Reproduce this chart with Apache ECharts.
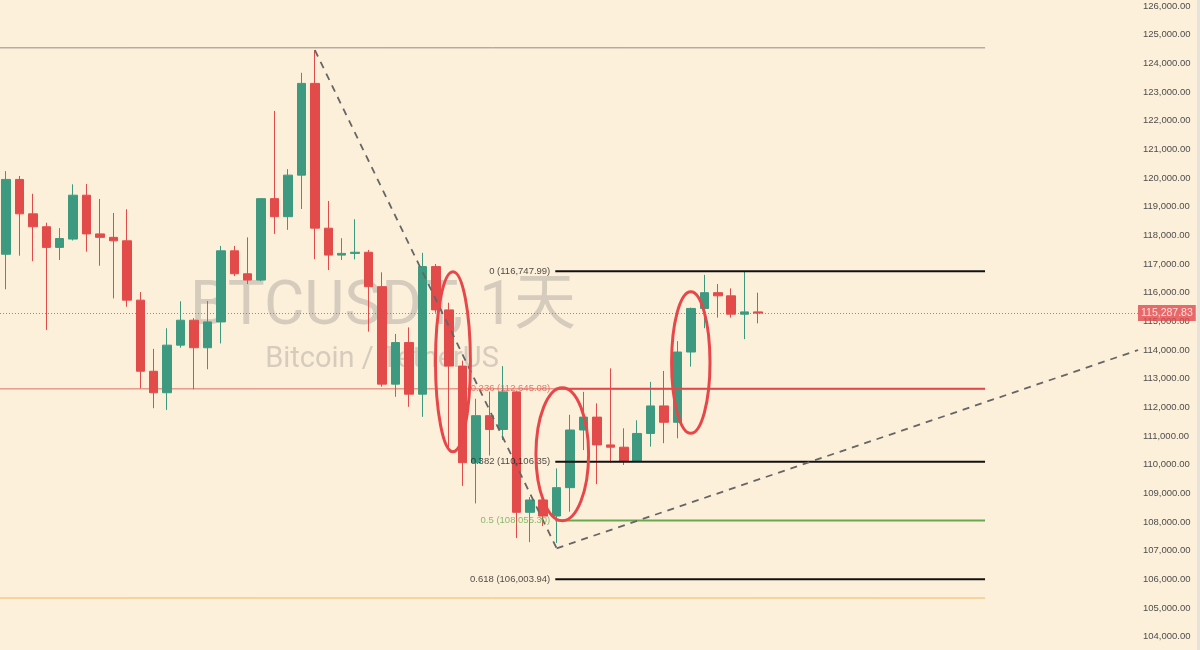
<!DOCTYPE html>
<html>
<head>
<meta charset="utf-8">
<title>BTCUSDT, 1天</title>
<script src="https://cdn.jsdelivr.net/npm/echarts@6/dist/echarts.min.js"></script>
<style>
  html, body { margin: 0; padding: 0; background: #fdf0da; }
  #chart { width: 1200px; height: 650px; }
</style>
</head>
<body>
<div id="chart"></div>
<script>
// Daily BTCUSDT candles, 22 Jul – 16 Sep 2025
const dates = [
  '07-22','07-23','07-24','07-25','07-26','07-27','07-28','07-29','07-30','07-31',
  '08-01','08-02','08-03','08-04','08-05','08-06','08-07','08-08','08-09','08-10',
  '08-11','08-12','08-13','08-14','08-15','08-16','08-17','08-18','08-19','08-20',
  '08-21','08-22','08-23','08-24','08-25','08-26','08-27','08-28','08-29','08-30',
  '08-31','09-01','09-02','09-03','09-04','09-05','09-06','09-07','09-08','09-09',
  '09-10','09-11','09-12','09-13','09-14','09-15','09-16'
];
const opens = [
  117340,119950,118750,118300,117580,117870,119400,118050,117930,117810,
  115740,113260,112510,114170,115040,114080,114980,117460,116660,116440,
  119280,118650,120100,123300,118250,117310,117370,117410,116210,112810,
  114260,112460,116910,115400,113440,110070,111710,111230,112540,108340,
  108770,108210,109200,111210,111660,110690,110610,110130,111090,112050,
  111480,113930,115450,116000,115890,115250,115330
];
const closes = [
  119950,118750,118300,117580,117890,119400,118050,117930,117810,115740,
  113260,112510,114170,115040,114080,114980,117460,116660,116440,119280,
  118650,120100,123300,118250,117310,117370,117410,116210,112810,114260,
  112460,116910,115400,113440,110070,111710,111230,112540,108340,108770,
  108210,109200,111210,111660,110690,110610,110130,111090,112050,111480,
  113930,115450,116000,115890,115250,115330,115287.83
];
const lows = [
  116120,117290,117100,114700,117140,117820,117430,116940,115800,115510,
  112660,111970,111910,114080,112630,113330,114230,116580,116300,116400,
  118050,118190,118920,117170,116790,117140,117160,114640,112720,112370,
  112020,111670,115300,110510,109260,108650,110320,110860,107440,107300,
  107860,107270,108360,110510,109320,110070,109990,110100,110630,110750,
  110920,113420,114760,115130,115130,114380,114930
];
const highs = [
  120240,120070,119450,118440,118250,119780,119790,119270,118780,118910,
  116020,114040,114760,115700,115110,115710,117630,117630,117930,119290,
  122340,120310,123670,124460,119200,117900,118560,117490,116710,114560,
  114790,117390,117000,115650,113630,112300,112550,113440,112560,108870,
  108940,109870,111740,112540,112140,113360,111270,111550,112890,113270,
  114310,115480,116620,116300,116150,116750,116000
];

// Price scale ticks
const priceMin = 103000;
const priceMax = 127000;
const priceStep = 1000;

// Fibonacci retracement levels
const fibLevels = ['0', '0.236', '0.382', '0.5', '0.618'];
const fibPrices = [116747.99, 112645.08, 110106.35, 108055.30, 106003.94];
const fibLineColors = ['#111111', '#e2474b', '#111111', '#6aa84f', '#111111'];
const fibTextColors = ['#1c1c1c', '#e0574f', '#1c1c1c', '#6aab50', '#1c1c1c'];
const fibFrom = 40.9;
const fibTo = 72.9;

// Horizontal reference levels spanning the left part of the chart
const refPrices = [124540, 112645.08, 105350];
const refColors = ['#958a88', '#de6f66', '#efb865'];
const refFrom = -0.45;
const refTo = 72.9;

// Dashed trend lines: peak -> swing low -> rising support
const trendX = [23, 41, 84.3];
const trendY = [124457, 107083, 114000];

// Highlight ellipses (centre bar index, centre price, half-width in bars, half-height in price)
const ringX = [33.28, 41.42, 50.99];
const ringY = [113592, 110366, 113564];
const ringRX = [1.30, 1.96, 1.43];
const ringRY = [3139, 2320, 2470];

const fmt = v => v.toLocaleString('en-US', { minimumFractionDigits: 2, maximumFractionDigits: 2 });

const candleData = dates.map((d, i) => ({
  name: d,
  value: [i, opens[i], closes[i], lows[i], highs[i]]
}));
const lastClose = closes[closes.length - 1];

function segment(points, color, width, type, z) {
  return {
    type: 'line', data: points, symbol: 'none', silent: true, z: z,
    lineStyle: { color: color, width: width, type: type },
    animation: false
  };
}

const series = [];

series.push({
  type: 'candlestick',
  data: candleData,
  dimensions: ['idx', 'open', 'close', 'lowest', 'highest'],
  encode: { x: 0, y: [1, 2, 3, 4] },
  barWidth: 9,
  z: 3,
  itemStyle: {
    color: '#3d9a80', color0: '#e34b4b',
    borderColor: '#3d9a80', borderColor0: '#e34b4b', borderWidth: 1
  },
  markLine: {
    silent: true, symbol: ['none', 'none'],
    data: [{ yAxis: lastClose }],
    lineStyle: { type: [1, 2], color: '#e2474b', width: 1, opacity: 0.8 },
    label: {
      position: 'end', distance: 0, formatter: p => fmt(p.value),
      color: '#ffffff', backgroundColor: '#e2474d',
      fontFamily: 'Liberation Sans', fontSize: 10.5, padding: [3, 3, 2, 3]
    }
  }
});

refPrices.forEach((p, i) => {
  series.push(segment([[refFrom, p], [refTo, p]], refColors[i], 1, 'solid', 2));
});

fibPrices.forEach((p, i) => {
  series.push(segment([[fibFrom, p], [fibTo, p]], fibLineColors[i], 2, 'solid', 4));
});

series.push(segment([[trendX[0], trendY[0]], [trendX[1], trendY[1]]], '#666666', 1.8, [7, 6], 5));
series.push(segment([[trendX[1], trendY[1]], [trendX[2], trendY[2]]], '#666666', 1.8, [7, 6], 5));

series.push({
  type: 'scatter', silent: true, z: 6, symbolSize: 0, animation: false,
  data: fibPrices.map((p, i) => ({
    value: [fibFrom, p],
    label: { color: fibTextColors[i] }
  })),
  label: {
    show: true, position: 'left', distance: 5,
    fontFamily: 'Liberation Sans', fontSize: 9.5,
    formatter: p => fibLevels[p.dataIndex] + ' (' + fmt(fibPrices[p.dataIndex]) + ')'
  }
});

series.push({
  type: 'custom', silent: true, z: 7, animation: false,
  data: ringX.map((x, i) => [x, ringY[i], ringRX[i], ringRY[i]]),
  encode: { x: 0, y: 1 },
  renderItem: (params, api) => {
    const c = api.coord([api.value(0), api.value(1)]);
    const e = api.coord([api.value(0) + api.value(2), api.value(1) - api.value(3)]);
    return {
      type: 'ellipse',
      shape: { cx: c[0], cy: c[1], rx: Math.abs(e[0] - c[0]), ry: Math.abs(e[1] - c[1]) },
      style: { fill: 'none', stroke: '#e8474a', lineWidth: 3 }
    };
  }
});

const chart = echarts.init(document.getElementById('chart'));
chart.setOption({
  animation: false,
  backgroundColor: '#fdf0da',
  grid: {
    left: 0, right: 62, top: -22.7, bottom: -15.4,
    containLabel: false, outerBoundsMode: 'none'
  },
  xAxis: {
    type: 'value', min: -0.447, max: 84.29, show: false,
    splitLine: { show: false }
  },
  yAxis: {
    type: 'value', position: 'right',
    min: priceMin, max: priceMax, interval: priceStep,
    axisLine: { show: false }, axisTick: { show: false }, splitLine: { show: false },
    axisLabel: {
      margin: 5, color: '#4d4d4d', fontFamily: 'Liberation Sans', fontSize: 9.5,
      formatter: v => fmt(v)
    }
  },
  graphic: [
    {
      type: 'text', x: 383, y: 308, z: 0, silent: true,
      style: {
        text: 'BTCUSDT, 1天', fill: '#d5ccbe',
        font: '62px Roboto, "Noto Sans CJK SC", sans-serif',
        textAlign: 'center', textVerticalAlign: 'middle'
      }
    },
    {
      type: 'text', x: 382, y: 360, z: 0, silent: true,
      style: {
        text: 'Bitcoin / TetherUS', fill: '#d5ccbe',
        font: '29px Roboto, sans-serif',
        textAlign: 'center', textVerticalAlign: 'middle'
      }
    },
    {
      type: 'rect', z: 0, silent: true,
      shape: { x: 1197, y: 0, width: 3, height: 650 },
      style: { fill: '#e6e2dc' }
    }
  ],
  series: series
});
</script>
</body>
</html>
